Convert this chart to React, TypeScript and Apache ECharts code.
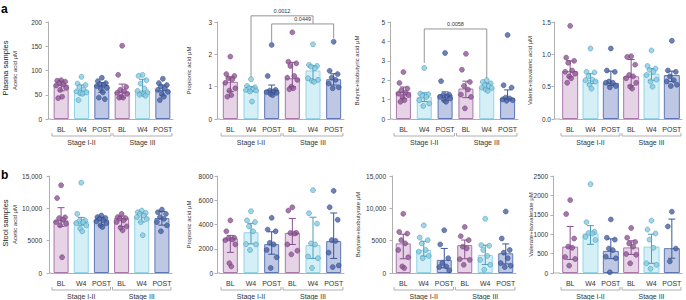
import React, { useEffect, useRef } from "react";
import * as echarts from "echarts";

// ---------- categories / labels ----------
const groupLabels = ["BL", "W4", "POST", "BL", "W4", "POST"];
const stageLabels = ["Stage I-II", "Stage III"];
const stageSpans = [
  [0, 2],
  [3, 5],
];

// ---------- a: plasma samples ----------
const acetPlasmaBar = [71, 60, 70, 56, 57, 60];
const acetPlasmaLo = [58, 50, 55, 44, 50, 48];
const acetPlasmaHi = [78, 70, 75, 72, 82, 70];
const acetPlasmaPts = [
  [80, 79, 77, 74, 71, 69, 64, 60, 46, 43],
  [87, 73, 70, 66, 61, 57, 55, 53, 52, 39],
  [85, 78, 74, 72, 70, 68, 64, 62, 55, 44, 41],
  [151, 91, 66, 60, 57, 54, 52, 46, 44, 44],
  [91, 89, 80, 73, 63, 58, 55, 53, 51, 50, 48],
  [83, 74, 70, 67, 63, 60, 56, 52, 46, 39],
];

const propPlasmaBar = [1.15, 0.92, 0.9, 1.26, 1.5, 1.23];
const propPlasmaLo = [0.85, 0.85, 0.78, 1.0, 1.2, 1.05];
const propPlasmaHi = [1.3, 1.0, 1.05, 1.75, 1.65, 1.4];
const propPlasmaPts = [
  [1.93, 1.39, 1.33, 1.26, 1.23, 1.12, 0.95, 0.88, 0.74, 0.69],
  [1.23, 1.02, 0.98, 0.95, 0.92, 0.9, 0.88, 0.85, 0.54],
  [2.29, 1.33, 0.9, 0.88, 0.85, 0.83, 0.81, 0.77, 0.74],
  [2.68, 1.77, 1.72, 1.64, 1.33, 1.28, 1.21, 1.0, 0.95, 0.92],
  [2.31, 1.67, 1.64, 1.62, 1.57, 1.26, 1.21, 1.18, 1.15],
  [2.39, 1.49, 1.39, 1.28, 1.21, 1.1, 0.98, 0.95],
];
const propPlasmaSig = [
  [1, 4, 3.19, 1.3, 2.95],
  [2, 5, 2.94, 2.38, 2.5],
];
const propPlasmaSigLabels = ["0.0012", "0.0449"];

const butyPlasmaBar = [1.4, 1.14, 1.26, 1.57, 1.62, 1.09];
const butyPlasmaLo = [1.05, 0.9, 0.95, 1.1, 1.55, 1.0];
const butyPlasmaHi = [1.65, 1.35, 1.4, 1.95, 1.85, 1.5];
const butyPlasmaPts = [
  [2.42, 1.86, 1.57, 1.48, 1.35, 1.31, 1.23, 1.14, 0.97, 0.89],
  [2.63, 1.31, 1.28, 1.2, 1.14, 0.97, 0.8, 0.67],
  [3.4, 1.95, 1.25, 1.23, 1.18, 1.14, 1.06, 0.97, 0.89],
  [3.36, 2.54, 1.91, 1.7, 1.52, 1.26, 1.14, 0.55],
  [2.0, 1.91, 1.83, 1.74, 1.69, 1.62, 1.6, 1.52, 1.45],
  [4.33, 1.74, 1.62, 1.1, 1.06, 1.01, 0.97, 0.94],
];
const butyPlasmaSig = [[1, 4, 4.64, 2.89, 2.11]];
const butyPlasmaSigLabels = ["0.0058"];

const valePlasmaBar = [0.74, 0.6, 0.56, 0.66, 0.7, 0.68];
const valePlasmaLo = [0.65, 0.55, 0.52, 0.52, 0.6, 0.58];
const valePlasmaHi = [0.9, 0.7, 0.74, 0.92, 0.78, 0.74];
const valePlasmaPts = [
  [1.44, 0.95, 0.9, 0.87, 0.75, 0.73, 0.7, 0.66, 0.63, 0.56],
  [1.09, 0.73, 0.72, 0.66, 0.61, 0.6, 0.58, 0.53, 0.47],
  [1.09, 0.75, 0.73, 0.58, 0.56, 0.56, 0.51, 0.49],
  [0.97, 0.96, 0.84, 0.68, 0.66, 0.63, 0.56, 0.5, 0.47],
  [1.06, 0.82, 0.78, 0.76, 0.73, 0.68, 0.61, 0.58, 0.5],
  [1.21, 0.75, 0.73, 0.66, 0.6, 0.58, 0.53, 0.51],
];

// ---------- b: stool samples ----------
const acetStoolBar = [8130, 7980, 8280, 8490, 8640, 8490];
const acetStoolLo = [7200, 7400, 7400, 7200, 7900, 7400];
const acetStoolHi = [10100, 8600, 8600, 8800, 9200, 9500];
const acetStoolPts = [
  [13570, 11590, 8600, 8490, 8230, 7880, 7620, 7370, 2440],
  [13970, 9140, 8100, 8030, 7880, 7720, 7370, 6860, 6450],
  [8890, 8640, 8500, 8380, 8130, 7980, 7700, 7370, 7110],
  [9140, 8640, 8490, 8400, 8130, 7880, 7210, 7000, 6600],
  [9650, 9400, 9300, 9140, 8890, 8640, 8380, 7880, 5840],
  [9800, 9400, 9140, 8640, 8380, 7880, 7370, 6450],
];

const propStoolBar = [2850, 3360, 2380, 3310, 2300, 2630];
const propStoolLo = [1700, 2400, 1550, 2350, 1200, 1200];
const propStoolHi = [3100, 4100, 3400, 4500, 4600, 4950];
const propStoolPts = [
  [4340, 3440, 2900, 2850, 2760, 2710, 2360, 810, 540],
  [5100, 4340, 4200, 3850, 3440, 2380, 2360, 1900],
  [4550, 3580, 3440, 2490, 2360, 1900, 1300, 410],
  [5420, 5150, 3310, 3300, 3250, 2360, 1840, 1540],
  [6830, 4930, 4070, 2440, 2360, 1360, 1220, 410],
  [6780, 5420, 4390, 2710, 2650, 1680, 620, 490],
];

const butyStoolBar = [4580, 3560, 2030, 4320, 2800, 3050];
const butyStoolLo = [2200, 2600, 800, 2200, 1300, 1400];
const butyStoolHi = [6000, 4900, 3800, 5100, 4300, 4500];
const butyStoolPts = [
  [9150, 6350, 6100, 5080, 4580, 3560, 2440, 1020, 760],
  [7370, 5490, 5080, 4580, 3560, 3300, 2640, 2290],
  [6610, 4420, 2290, 1530, 1020, 920, 410],
  [7120, 5690, 5080, 4070, 3810, 2140, 2030, 1270],
  [8390, 4320, 4220, 3560, 2640, 2030, 1270, 510],
  [9510, 5340, 3560, 3150, 2290, 1530, 1120, 920],
];

const valeStoolBar = [680, 1020, 570, 660, 680, 640];
const valeStoolLo = [350, 740, 370, 480, 250, 380];
const valeStoolHi = [1200, 1220, 880, 830, 1000, 1390];
const valeStoolPts = [
  [1880, 1520, 890, 680, 650, 410, 360, 190],
  [2290, 1310, 1060, 1030, 1020, 930, 850],
  [1380, 910, 860, 630, 590, 420, 380, 20],
  [1160, 910, 800, 760, 680, 490, 470, 250],
  [1350, 1120, 1020, 860, 650, 250, 210, 110],
  [1580, 1200, 630, 300],
];

// ---------- styles ----------
const FONT = "'Liberation Sans', Arial, Helvetica, sans-serif";
const FILL = ["#e6d3e6", "#d5eff6", "#bec7e3"];
const EDGE = ["#a877aa", "#93d3e6", "#5d77b5"];
const DOT = ["#8e5695", "#86cbe1", "#4862a2"];
const DOT_EDGE = ["#6d3b73", "#3f8fb1", "#2d4683"];
const ERR = ["#8a4f90", "#4b9cbd", "#3e5898"];
const AXIS = "#9c9c9c";
const TEXT = "#333333";
const JITTER = [0, -4, 4, -2, 2, -5, 5, -1, 1, -3, 3];

const fmtPlain = (v: number) => String(v);
const fmtDec1 = (v: number) => v.toFixed(1);
const fmtComma = (v: number) => (v >= 10000 ? v.toLocaleString("en-US") : String(v));

type Panel = {
  left: number;
  width: number;
  top: number;
  height: number;
  axisOffset: number;
  max: number;
  interval: number;
  name: string;
  nameGap: number;
  labelMargin: number;
  barW: number;
  fmt: (v: number) => string;
  bars: number[];
  lo: number[];
  hi: number[];
  pts: number[][];
  sig?: number[][];
  sigLabels?: string[];
};

const ROW_A = { top: 22, height: 97 };
const ROW_B = { top: 176, height: 97 };

const panels: Panel[] = [
  { left: 51, width: 122, ...ROW_A, axisOffset: 3, max: 200, interval: 50, name: "Acetic acid μM", nameGap: 30, labelMargin: 6, barW: 15, fmt: fmtPlain, bars: acetPlasmaBar, lo: acetPlasmaLo, hi: acetPlasmaHi, pts: acetPlasmaPts },
  { left: 220, width: 124, ...ROW_A, axisOffset: 3, max: 3, interval: 1, name: "Propionic acid μM", nameGap: 25, labelMargin: 5, barW: 15, fmt: fmtPlain, bars: propPlasmaBar, lo: propPlasmaLo, hi: propPlasmaHi, pts: propPlasmaPts, sig: propPlasmaSig, sigLabels: propPlasmaSigLabels },
  { left: 393, width: 125, ...ROW_A, axisOffset: 3, max: 5, interval: 1, name: "Butyric+isobutyric acid μM", nameGap: 30, labelMargin: 5, barW: 15, fmt: fmtPlain, bars: butyPlasmaBar, lo: butyPlasmaLo, hi: butyPlasmaHi, pts: butyPlasmaPts, sig: butyPlasmaSig, sigLabels: butyPlasmaSigLabels },
  { left: 560, width: 122, ...ROW_A, axisOffset: 6, max: 1.5, interval: 0.5, name: "Valeric+isovaleric acid μM", nameGap: 21, labelMargin: 3, barW: 16, fmt: fmtDec1, bars: valePlasmaBar, lo: valePlasmaLo, hi: valePlasmaHi, pts: valePlasmaPts },
  { left: 51, width: 121, ...ROW_B, axisOffset: 2, max: 15000, interval: 5000, name: "Acetic acid μM", nameGap: 31, labelMargin: 7, barW: 15, fmt: fmtComma, bars: acetStoolBar, lo: acetStoolLo, hi: acetStoolHi, pts: acetStoolPts },
  { left: 220, width: 124, ...ROW_B, axisOffset: 3, max: 8000, interval: 2000, name: "Propionic acid μM", nameGap: 25, labelMargin: 4, barW: 15, fmt: fmtPlain, bars: propStoolBar, lo: propStoolLo, hi: propStoolHi, pts: propStoolPts },
  { left: 393, width: 123, ...ROW_B, axisOffset: 1, max: 15000, interval: 5000, name: "Butyrate+isobutyrate μM", nameGap: 31, labelMargin: 6, barW: 15, fmt: fmtComma, bars: butyStoolBar, lo: butyStoolLo, hi: butyStoolHi, pts: butyStoolPts },
  { left: 560, width: 122, ...ROW_B, axisOffset: 7, max: 2500, interval: 500, name: "Valerate+isovalerate μM", nameGap: 19, labelMargin: 5, barW: 16, fmt: fmtPlain, bars: valeStoolBar, lo: valeStoolLo, hi: valeStoolHi, pts: valeStoolPts },
];

function buildOption() {
  const grid: any[] = [];
  const xAxis: any[] = [];
  const yAxis: any[] = [];
  const series: any[] = [];

  panels.forEach((p, k) => {
    const xi = 2 * k;
    grid.push({ left: p.left, top: p.top, width: p.width, height: p.height, containLabel: false });
    xAxis.push({
      type: "category",
      gridIndex: k,
      data: groupLabels,
      axisLine: { show: true, lineStyle: { color: AXIS, width: 0.8 } },
      axisTick: { show: false },
      axisLabel: { interval: 0, fontSize: 7, color: TEXT, margin: 6.5, fontFamily: FONT },
      splitLine: { show: false },
    });
    // stage labels as a second category axis under the first
    xAxis.push({
      type: "category",
      gridIndex: k,
      position: "bottom",
      offset: 17,
      data: stageLabels,
      axisLine: { show: false },
      axisTick: { show: false },
      axisLabel: { interval: 0, fontSize: 7, color: TEXT, margin: 2.5, fontFamily: FONT },
      splitLine: { show: false },
    });
    yAxis.push({
      type: "value",
      gridIndex: k,
      min: 0,
      max: p.max,
      interval: p.interval,
      offset: p.axisOffset,
      name: p.name,
      nameLocation: "middle",
      nameGap: p.nameGap,
      nameMoveOverlap: false,
      nameTextStyle: { fontSize: 6, color: TEXT, fontFamily: FONT },
      axisLine: { show: true, lineStyle: { color: AXIS, width: 0.8 } },
      axisTick: { show: true, length: 2.5, lineStyle: { color: AXIS, width: 0.8 } },
      axisLabel: { fontSize: 6.5, color: TEXT, margin: p.labelMargin, fontFamily: FONT, formatter: p.fmt },
      splitLine: { show: false },
    });

    // bars
    series.push({
      type: "bar",
      xAxisIndex: xi,
      yAxisIndex: k,
      barWidth: p.barW,
      data: p.bars.map((v, i) => ({
        value: v,
        itemStyle: { color: FILL[i % 3], borderColor: EDGE[i % 3], borderWidth: 1 },
      })),
      z: 1,
    });

    // error bars
    series.push({
      type: "custom",
      xAxisIndex: xi,
      yAxisIndex: k,
      clip: false,
      encode: { x: 0, y: [1, 2] },
      data: p.lo.map((l, i) => [i, l, p.hi[i]]),
      renderItem: (params: any, api: any) => {
        const i = api.value(0);
        const a = api.coord([i, api.value(1)]);
        const b = api.coord([i, api.value(2)]);
        const c = ERR[params.dataIndex % 3];
        const w = 3.5;
        const st = { stroke: c, lineWidth: 1 };
        return {
          type: "group",
          children: [
            { type: "line", shape: { x1: a[0], y1: a[1], x2: b[0], y2: b[1] }, style: st },
            { type: "line", shape: { x1: a[0] - w, y1: a[1], x2: a[0] + w, y2: a[1] }, style: st },
            { type: "line", shape: { x1: b[0] - w, y1: b[1], x2: b[0] + w, y2: b[1] }, style: st },
          ],
        };
      },
      z: 3,
    });

    // points
    const sd: any[] = [];
    p.pts.forEach((arr, ci) =>
      arr.forEach((v, j) =>
        sd.push({
          value: [ci, v],
          symbolOffset: [JITTER[j % JITTER.length], 0],
          itemStyle: { color: DOT[ci % 3], borderColor: DOT_EDGE[ci % 3], borderWidth: 0.6 },
        })
      )
    );
    series.push({
      type: "scatter",
      xAxisIndex: xi,
      yAxisIndex: k,
      symbol: "circle",
      symbolSize: 5,
      data: sd,
      z: 4,
    });

    // stage brackets (+ short x-axis extension back to the offset y axis)
    const axisOffset = p.axisOffset;
    series.push({
      type: "custom",
      xAxisIndex: xi,
      yAxisIndex: k,
      clip: false,
      silent: true,
      encode: { x: [0, 1] },
      data: stageSpans.map((s) => [s[0], s[1]]),
      renderItem: (params: any, api: any) => {
        const s0 = api.value(0);
        const s1 = api.value(1);
        const a = api.coord([s0, 0]);
        const b = api.coord([s1, 0]);
        const step = (b[0] - a[0]) / (s1 - s0);
        const x1 = a[0] - step * 0.45;
        const x2 = b[0] + step * 0.45;
        const y = a[1] + 17;
        const children: any[] = [
          {
            type: "polyline",
            shape: { points: [[x1, y - 3], [x1, y], [x2, y], [x2, y - 3]] },
            style: { stroke: AXIS, lineWidth: 0.8, fill: null },
          },
        ];
        if (params.dataIndex === 0) {
          const gx = a[0] - step * 0.5;
          children.push({
            type: "line",
            shape: { x1: gx - axisOffset, y1: a[1], x2: gx, y2: a[1] },
            style: { stroke: AXIS, lineWidth: 0.8 },
          });
        }
        return { type: "group", children };
      },
    });

    // significance brackets
    if (p.sig && p.sigLabels) {
      const labels = p.sigLabels;
      series.push({
        type: "custom",
        xAxisIndex: xi,
        yAxisIndex: k,
        clip: false,
        silent: true,
        encode: { x: [0, 1], y: 2 },
        data: p.sig,
        renderItem: (params: any, api: any) => {
          const f = api.value(0);
          const t = api.value(1);
          const top = api.value(2);
          const p1 = api.coord([f, top]);
          const p2 = api.coord([t, top]);
          const l = api.coord([f, api.value(3)]);
          const r = api.coord([t, api.value(4)]);
          return {
            type: "group",
            children: [
              {
                type: "polyline",
                shape: { points: [[l[0], l[1]], [p1[0], p1[1]], [p2[0], p2[1]], [r[0], r[1]]] },
                style: { stroke: "#7a7a7a", lineWidth: 0.8, fill: null },
              },
              {
                type: "text",
                x: (p1[0] + p2[0]) / 2,
                y: p1[1] - 1.5,
                style: {
                  text: labels[params.dataIndex],
                  align: "center",
                  verticalAlign: "bottom",
                  fontSize: 5.5,
                  fontFamily: FONT,
                  fill: TEXT,
                },
              },
            ],
          };
        },
        z: 5,
      });
    }
  });

  const graphic = [
    { type: "text", left: 1, top: 3, style: { text: "a", font: `bold 12px ${FONT}`, fill: "#000" } },
    { type: "text", left: 1, top: 169, style: { text: "b", font: `bold 12px ${FONT}`, fill: "#000" } },
    {
      type: "text",
      x: 5.5,
      y: 68,
      rotation: Math.PI / 2,
      style: { text: "Plasma samples", fontSize: 7.5, fontFamily: FONT, fill: "#222", align: "center", verticalAlign: "middle" },
    },
    {
      type: "text",
      x: 5.5,
      y: 223,
      rotation: Math.PI / 2,
      style: { text: "Stool samples", fontSize: 7.5, fontFamily: FONT, fill: "#222", align: "center", verticalAlign: "middle" },
    },
  ];

  return {
    animation: false,
    backgroundColor: "#ffffff",
    textStyle: { fontFamily: FONT },
    grid,
    xAxis,
    yAxis,
    series,
    graphic,
  };
}

export default function App() {
  const ref = useRef<HTMLDivElement | null>(null);
  useEffect(() => {
    if (!ref.current) return;
    const chart = echarts.init(ref.current, undefined, { renderer: "svg" });
    chart.setOption(buildOption() as any);
    return () => {
      chart.dispose();
    };
  }, []);
  return (
    <div
      ref={ref}
      style={{ position: "absolute", left: 0, top: 0, width: 686, height: 300, background: "#fff" }}
    />
  );
}
